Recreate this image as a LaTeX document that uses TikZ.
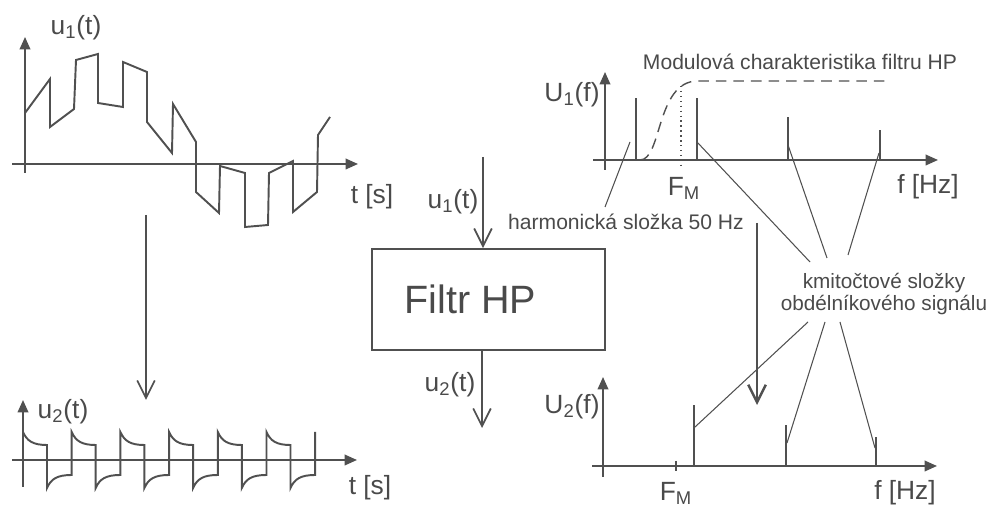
\documentclass[tikz,border=0pt]{standalone}
\usepackage{fontspec}
\setmainfont{Liberation Sans}
\usepackage{tikz}
\usetikzlibrary{arrows.meta, positioning, calc}
\definecolor{inkgray}{HTML}{505050}
\definecolor{txtgray}{HTML}{4A4A4A}
\tikzset{
  % Axes of the plots
  axis/.style={line width=1pt, draw=inkgray, -{Triangle[length=7pt,width=6pt]}},
  % Signal curves
  wave/.style={line width=1.1pt, draw=inkgray, line join=miter},
  % Spectral lines
  specline/.style={line width=1.4pt, draw=inkgray},
  % Signal flow arrows
  sigarrow/.style={line width=1pt, draw=inkgray, -{Straight Barb[length=10pt,width=10pt]}},
  % Thin leader lines to the notes
  leader/.style={line width=0.6pt, draw=inkgray},
  % Labels
  axlabel/.style={text=txtgray, font=\fontsize{15}{17}\selectfont, inner sep=1pt},
  note/.style={text=txtgray, font=\fontsize{12}{14.5}\selectfont, inner sep=1pt, align=center},
  % The filter block
  filterbox/.style={
    rectangle, draw=inkgray, line width=1.1pt, text=txtgray,
    minimum width=4.66cm, minimum height=2.02cm,
    font=\fontsize{22.5}{26}\selectfont,
  },
}
\begin{document}
\begin{tikzpicture}[x=0.02cm, y=-0.02cm]
  \useasboundingbox (0,0) rectangle (988,509);

  % Input signal u1(t)
  \draw[axis] (12,164) -- (358,164);
  \draw[axis] (25,173) -- (25,37);
  \node[axlabel] (u1lbl) at (76,28) {u\textsubscript{1}(t)};
  \node[axlabel] (ts1) at (372,197) {t [s]};
  \draw[wave] (25,113) -- (50,79) -- (50,127) -- (74,109) -- (76,60) -- (98,54)
    -- (98,103) -- (123,107) -- (123,62) -- (147,72) -- (147,122) -- (172,153)
    -- (173,104) -- (196,142) -- (196,192) -- (219,213) -- (220,166) -- (245,173)
    -- (245,227) -- (268,225) -- (269,173) -- (293,161) -- (293,212) -- (317,192)
    -- (318,135) -- (330,117);

  % Output signal u2(t)
  \draw[axis] (12,460) -- (357,460);
  \draw[axis] (23,487) -- (23,400);
  \node[axlabel] (u2lbl) at (63,412) {u\textsubscript{2}(t)};
  \node[axlabel] (ts2) at (370,488) {t [s]};
  \draw[wave] (23,485) \foreach \k in {0,...,5}{
      -- ({23+48.7*\k},432) .. controls ({27+48.7*\k},441) and ({33+48.7*\k},445) .. ({47+48.7*\k},445)
      -- ({47+48.7*\k},488) .. controls ({51+48.7*\k},479) and ({57+48.7*\k},475) .. ({71.7+48.7*\k},475)
    } -- (315.2,432);

  \coordinate (la) at (146,215);
  \coordinate (lb) at (146,400);
  \draw[sigarrow] (la) -- (lb);

  % Filter block
  \node[filterbox] (filtr) at (488.5,299.5) {Filtr HP\hspace*{0.72cm}};
  \coordinate (fin) at (483,157);
  \coordinate (fout) at (482,428);
  \draw[sigarrow] (fin) -- (fin |- filtr.north);
  \draw[sigarrow] (filtr.south -| fout) -- (fout);
  \node[axlabel] (u1in) at (453,202) {u\textsubscript{1}(t)};
  \node[axlabel] (u2out) at (450,385) {u\textsubscript{2}(t)};

  % Spectrum U1(f)
  \draw[axis] (593,160) -- (938,160);
  \draw[axis] (605,170) -- (605,72);
  \node[axlabel] (U1lbl) at (572,95) {U\textsubscript{1}(f)};
  \node[axlabel] (fhz1) at (928,187) {f [Hz]};
  \node[axlabel] (fm1) at (684,188) {F\textsubscript{M}};
  \draw[specline] (636,160) -- (636,98);
  \draw[specline] (697,160) -- (697,98);
  \draw[specline] (788,160) -- (788,117);
  \draw[specline] (880,160) -- (880,130);
  \draw[inkgray, line width=0.8pt, dash pattern=on 6pt off 4pt]
    (640,160) .. controls (662,160) and (656,82) .. (697,81) -- (887,81);
  \draw[inkgray, line width=0.8pt, dotted] (681,86) -- (681,167);
  \node[note] (modul) at (800,62) {Modulová charakteristika filtru HP};

  % Spectrum U2(f)
  \draw[axis] (592,466) -- (937,466);
  \draw[axis] (603,477) -- (603,377);
  \node[axlabel] (U2lbl) at (572,407) {U\textsubscript{2}(f)};
  \node[axlabel] (fm2) at (676,493) {F\textsubscript{M}};
  \node[axlabel] (fhz2) at (905,493) {f [Hz]};
  \draw[inkgray, line width=0.8pt] (676,461) -- (676,471);
  \draw[specline] (694,466) -- (694,405);
  \draw[specline] (786,466) -- (786,425);
  \draw[specline] (876,466) -- (876,437);

  \coordinate (ra) at (757,223);
  \coordinate (rb) at (757,405);
  \draw[sigarrow, line width=1.4pt] (ra) -- (rb);

  % Notes and leader lines
  \node[note] (harm) at (626,222) {harmonická složka 50 Hz};
  \draw[leader] (630,142) -- (605,207);
  \node[note, font=\fontsize{11.8}{12.6}\selectfont] (kmit) at (884,294)
    {kmitočtové složky\\obdélníkového signálu};
  \draw[leader] (697,142) -- (810,262);
  \draw[leader] (788,145) -- (827,258);
  \draw[leader] (879,153) -- (848,255);
  \draw[leader] (808,322) -- (695,427);
  \draw[leader] (825,322) -- (787,443);
  \draw[leader] (840,322) -- (875,448);
\end{tikzpicture}
\end{document}
